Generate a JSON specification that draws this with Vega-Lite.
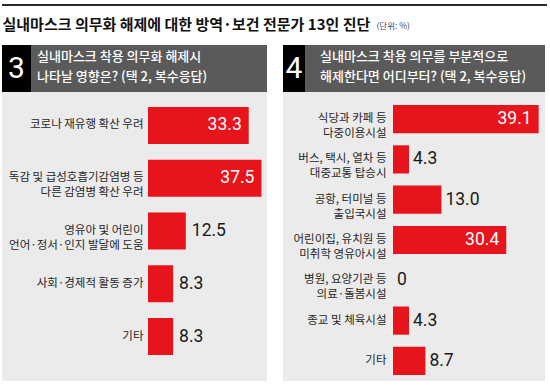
{
  "$schema": "https://vega.github.io/schema/vega-lite/v6.json",
  "padding": {"left": 2, "top": 4, "right": 0, "bottom": 0},
  "background": "white",
  "config": {"view": {"stroke": null}, "concat": {"spacing": 0}},
  "datasets": {
    "p3": [
      {"label": "코로나 재유행 확산 우려", "v": 33.3},
      {"label": "독감 및 급성호흡기감염병 등\n다른 감염병 확산 우려", "v": 37.5},
      {"label": "영유아 및 어린이\n언어·정서·인지 발달에 도움", "v": 12.5},
      {"label": "사회·경제적 활동 증가", "v": 8.3},
      {"label": "기타", "v": 8.3}
    ],
    "p4": [
      {"label": "식당과 카페 등\n다중이용시설", "v": 39.1},
      {"label": "버스, 택시, 열차 등\n대중교통 탑승시", "v": 4.3},
      {"label": "공항, 터미널 등\n출입국시설", "v": 13.0},
      {"label": "어린이집, 유치원 등\n미취학 영유아시설", "v": 30.4},
      {"label": "병원, 요양기관 등\n의료·돌봄시설", "v": 0},
      {"label": "종교 및 체육시설", "v": 4.3},
      {"label": "기타", "v": 8.7}
    ]
  },
  "vconcat": [
    {
      "data": {"values": [{"k": "rule"}]},
      "width": 545, "height": 2,
      "mark": {"type": "rect", "color": "#2a2a2a"},
      "encoding": {}
    },
    {
      "spacing": 5,
      "hconcat": [
        {
          "data": {"values": [{"t": "실내마스크 의무화 해제에 대한 방역·보건 전문가 13인 진단"}]},
          "width": 1, "height": 39,
          "mark": {"type": "text", "align": "left", "baseline": "alphabetic", "dy": 4, "font": "Noto Sans CJK KR", "fontWeight": "bold", "fontSize": 15, "color": "#111111"},
          "encoding": {"text": {"field": "t"}}
        },
        {
          "data": {"values": [{"t": "(단위: %)"}]},
          "width": 1, "height": 39,
          "mark": {"type": "text", "align": "left", "baseline": "alphabetic", "dy": 3, "font": "Noto Sans CJK KR", "fontSize": 8.5, "color": "#444444"},
          "encoding": {"text": {"field": "t"}}
        }
      ]
    },
    {
      "spacing": 16,
      "hconcat": [
        {
          "vconcat": [
            {
              "hconcat": [
                {
                  "data": {"values": [{"n": "3"}]},
                  "width": 29, "height": 47,
                  "view": {"fill": "#000000", "stroke": null},
                  "mark": {"type": "text", "color": "white", "font": "Roboto", "fontSize": 30, "baseline": "middle", "align": "center"},
                  "encoding": {"text": {"field": "n"}}
                },
                {
                  "data": {"values": [{"q": "3"}]},
                  "width": 236, "height": 47,
                  "mark": {"type": "rect", "color": "#5a5a5a"},
                  "encoding": {},
                  "title": {"text": ["실내마스크 착용 의무화 해제시", "나타날 영향은? (택 2, 복수응답)"], "orient": "bottom", "anchor": "start", "frame": "group", "align": "left", "baseline": "top", "offset": -41, "dx": 6, "color": "white", "font": "Noto Sans CJK KR", "fontSize": 13, "fontWeight": 500, "lineHeight": 20}
                }
              ]
            },
            {
              "data": {"name": "p3"},
              "width": 265, "height": 289,
              "view": {"fill": "#ebebeb", "stroke": null},
              "encoding": {
                "y": {"field": "label", "type": "nominal", "sort": null,
                  "scale": {"range": [15, 263], "paddingInner": 0.3, "paddingOuter": 0},
                  "axis": {"title": null, "orient": "left", "offset": -146, "domain": false, "ticks": false, "tickSize": 0, "labelPadding": 5, "labelExpr": "split(datum.label, '\\n')", "labelFont": "Noto Sans CJK KR", "labelFontSize": 11.5, "labelColor": "#262626", "labelLineHeight": 15, "labelLimit": 0}},
                "x": {"field": "v", "type": "quantitative", "scale": {"domain": [0, 40], "range": [146, 267]}, "axis": null}
              },
              "layer": [
                {"mark": {"type": "bar", "color": "#e8141c"}},
                {"transform": [{"filter": "datum.v >= 20"}],
                 "mark": {"type": "text", "align": "right", "dx": -7, "color": "white", "font": "Roboto", "fontSize": 17.5, "baseline": "middle"},
                 "encoding": {"text": {"field": "v", "type": "quantitative", "format": ".1f"}}},
                {"transform": [{"filter": "datum.v < 20"}],
                 "mark": {"type": "text", "align": "left", "dx": 6, "color": "#1a1a1a", "font": "Roboto", "fontSize": 17.5, "baseline": "middle"},
                 "encoding": {"text": {"condition": {"test": "datum.v === 0", "value": "0"}, "field": "v", "type": "quantitative", "format": ".1f"}}}
              ]
            }
          ]
        },
        {
          "vconcat": [
            {
              "hconcat": [
                {
                  "data": {"values": [{"n": "4"}]},
                  "width": 22, "height": 47,
                  "view": {"fill": "#000000", "stroke": null},
                  "mark": {"type": "text", "color": "white", "font": "Roboto", "fontSize": 30, "baseline": "middle", "align": "center"},
                  "encoding": {"text": {"field": "n"}}
                },
                {
                  "data": {"values": [{"q": "4"}]},
                  "width": 240, "height": 47,
                  "mark": {"type": "rect", "color": "#5a5a5a"},
                  "encoding": {},
                  "title": {"text": ["실내마스크 착용 의무를 부분적으로", "해제한다면 어디부터? (택 2, 복수응답)"], "orient": "bottom", "anchor": "start", "frame": "group", "align": "left", "baseline": "top", "offset": -41, "dx": 15, "color": "white", "font": "Noto Sans CJK KR", "fontSize": 13, "fontWeight": 500, "lineHeight": 20}
                }
              ]
            },
            {
              "data": {"name": "p4"},
              "width": 262, "height": 289,
              "view": {"fill": "#ebebeb", "stroke": null},
              "encoding": {
                "y": {"field": "label", "type": "nominal", "sort": null,
                  "scale": {"range": [13, 283], "paddingInner": 0.3, "paddingOuter": 0},
                  "axis": {"title": null, "orient": "left", "offset": -110, "domain": false, "ticks": false, "tickSize": 0, "labelPadding": 7, "labelExpr": "split(datum.label, '\\n')", "labelFont": "Noto Sans CJK KR", "labelFontSize": 11.5, "labelColor": "#262626", "labelLineHeight": 15, "labelLimit": 0}},
                "x": {"field": "v", "type": "quantitative", "scale": {"domain": [0, 40], "range": [110, 259]}, "axis": null}
              },
              "layer": [
                {"mark": {"type": "bar", "color": "#e8141c"}},
                {"transform": [{"filter": "datum.v >= 20"}],
                 "mark": {"type": "text", "align": "right", "dx": -7, "color": "white", "font": "Roboto", "fontSize": 17.5, "baseline": "middle"},
                 "encoding": {"text": {"field": "v", "type": "quantitative", "format": ".1f"}}},
                {"transform": [{"filter": "datum.v < 20"}],
                 "mark": {"type": "text", "align": "left", "dx": 4, "color": "#1a1a1a", "font": "Roboto", "fontSize": 17.5, "baseline": "middle"},
                 "encoding": {"text": {"condition": {"test": "datum.v === 0", "value": "0"}, "field": "v", "type": "quantitative", "format": ".1f"}}}
              ]
            }
          ]
        }
      ]
    }
  ]
}
